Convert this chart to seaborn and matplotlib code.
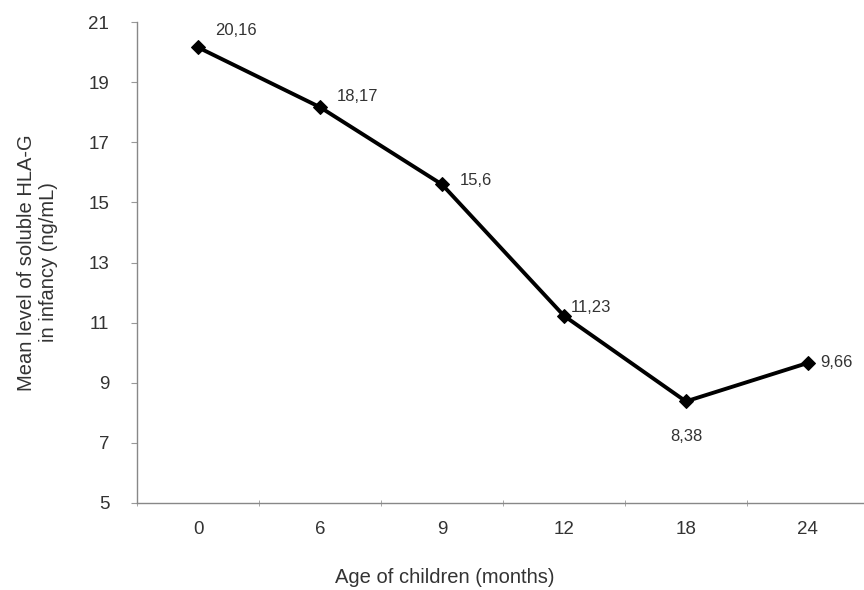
import pandas as pd
import seaborn as sns
import matplotlib.pyplot as plt
from matplotlib.ticker import FixedLocator

ages = ["0", "6", "9", "12", "18", "24"]
levels = [20.16, 18.17, 15.6, 11.23, 8.38, 9.66]
labels = ["20,16", "18,17", "15,6", "11,23", "8,38", "9,66"]

sns.set_style("white")
plt.rcParams['font.family'] = ['Liberation Sans', 'DejaVu Sans']

df = pd.DataFrame({'age': ages, 'level': levels})

fig = plt.figure(figsize=(8.64, 5.9), dpi=100)
ax = fig.add_axes([0.1586, 0.1475, 0.847, 0.815])
sns.lineplot(data=df, x='age', y='level', color='black', linewidth=2.8,
             marker='D', markersize=7.5, markeredgecolor='black', ax=ax)

# label offsets (points) relative to each marker
offsets = [(12, 12), (12, 8), (13, 3), (5, 6), (0, -25), (9, 0)]
for i, (lab, v) in enumerate(zip(labels, levels)):
    dx, dy = offsets[i]
    ha = 'center' if dx == 0 else 'left'
    ax.annotate(lab, (i, v), xytext=(dx, dy), textcoords='offset points',
                ha=ha, va='center', fontsize=12, color='#333333')

ax.set_xlim(-0.5, 5.5)
ax.set_ylim(5, 21)
ax.set_yticks(range(5, 22, 2))
ax.xaxis.set_minor_locator(FixedLocator([i + 0.5 for i in range(-1, 6)]))
ax.tick_params(axis='x', which='major', length=0, pad=13, labelsize=13.5, colors='#333333')
ax.tick_params(axis='x', which='minor', length=5, direction='inout', color='#999999', bottom=True)
ax.tick_params(axis='y', length=4, direction='out', color='#999999', left=True,
               labelsize=13.5, labelcolor='#333333', pad=16)

for s in ['top', 'right']:
    ax.spines[s].set_visible(False)
for s in ['left', 'bottom']:
    ax.spines[s].set_color('#888888')
    ax.spines[s].set_linewidth(1.0)

ax.set_xlabel("Age of children (months)", fontsize=14.5, color='#333333')
ax.xaxis.set_label_coords(0.42, -0.135)
ax.set_ylabel("Mean level of soluble HLA-G\nin infancy (ng/mL)", fontsize=14.5,
              color='#333333', labelpad=22)

fig.savefig("out.png", dpi=100)
plt.close()
